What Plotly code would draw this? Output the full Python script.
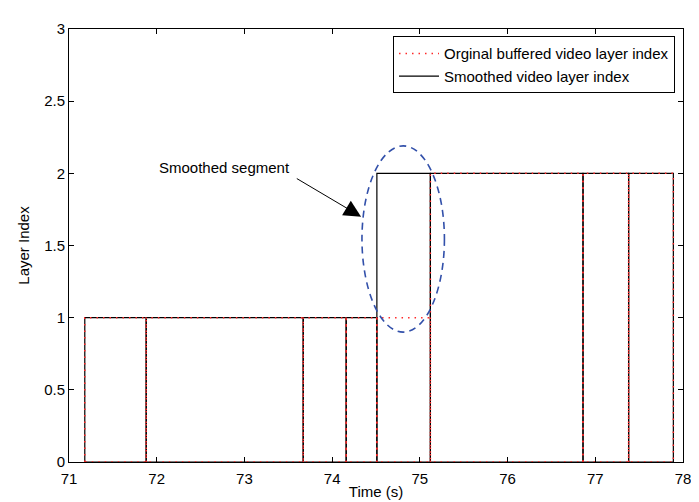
import plotly.graph_objects as go

# ---- data ----
boundaries = [71.18, 71.88, 73.67, 74.16, 74.51, 75.12, 76.86, 77.38, 77.89]
original_levels = [1, 1, 1, 1, 1, 2, 2, 2]
smoothed_levels = [1, 1, 1, 1, 2, 2, 2, 2]
x_ticks = [71, 72, 73, 74, 75, 76, 77, 78]
y_ticks = [0, 0.5, 1, 1.5, 2, 2.5, 3]
y_tick_labels = ["0", "0.5", "1", "1.5", "2", "2.5", "3"]


def segment_path(bounds, levels):
    xs, ys = [], []
    for i, lv in enumerate(levels):
        s, e = bounds[i], bounds[i + 1]
        xs += [s, s, e, e, s, None]
        ys += [0, lv, lv, 0, 0, None]
    return xs, ys


sx, sy = segment_path(boundaries, smoothed_levels)
ox, oy = segment_path(boundaries, original_levels)

FONT = "Liberation Sans, Arial, Helvetica, sans-serif"
FS = 15

fig = go.Figure()
fig.add_trace(go.Scatter(
    x=sx, y=sy, mode="lines", name="Smoothed video layer index",
    line=dict(color="black", width=1.2), legendrank=2,
))
fig.add_trace(go.Scatter(
    x=ox, y=oy, mode="lines", name="Orginal buffered video layer index",
    line=dict(color="rgb(255,40,40)", width=1.5, dash="1.5px,5px"), legendrank=1,
))

# dashed ellipse around the smoothed segment
fig.add_shape(type="circle", xref="x", yref="y",
              x0=74.34, x1=75.28, y0=0.90, y1=2.19,
              line=dict(color="rgb(50,80,170)", width=1.6, dash="7px,5px"))

# annotation text and arrow
fig.add_annotation(x=72.77, y=2.04, xref="x", yref="y", text="Smoothed segment",
                   showarrow=False, font=dict(family=FONT, size=FS, color="black"))
fig.add_annotation(x=74.33, y=1.70, ax=73.58, ay=1.97, xref="x", yref="y",
                   axref="x", ayref="y", text="", showarrow=True,
                   arrowhead=2, arrowsize=3.4, arrowwidth=1, arrowcolor="black")

axis_common = dict(
    showline=True, linecolor="black", linewidth=1, mirror="ticks",
    ticks="inside", ticklen=5, tickcolor="black", tickwidth=1,
    showgrid=False, zeroline=False,
    tickfont=dict(family=FONT, size=FS, color="black"),
)

fig.update_xaxes(range=[71, 78], tickvals=x_ticks, ticktext=[str(v) for v in x_ticks],
                 ticklabelstandoff=3,
                 title=dict(text="Time (s)", font=dict(family=FONT, size=FS, color="black"),
                            standoff=0),
                 **axis_common)
fig.update_yaxes(range=[0, 3], tickvals=y_ticks, ticktext=y_tick_labels,
                 title=dict(text="Layer Index", font=dict(family=FONT, size=FS, color="black"),
                            standoff=10),
                 **axis_common)

fig.update_layout(
    width=699, height=502,
    margin=dict(l=61, r=24, t=13, b=41),
    paper_bgcolor="white", plot_bgcolor="white",
    font=dict(family=FONT, size=FS, color="black"),
    showlegend=True,
    legend=dict(x=0.987, y=0.983, xanchor="right", yanchor="top",
                bgcolor="white", bordercolor="black", borderwidth=1,
                font=dict(family=FONT, size=FS, color="black"),
                itemwidth=40, tracegroupgap=0),
)

fig.write_html("out.html")
